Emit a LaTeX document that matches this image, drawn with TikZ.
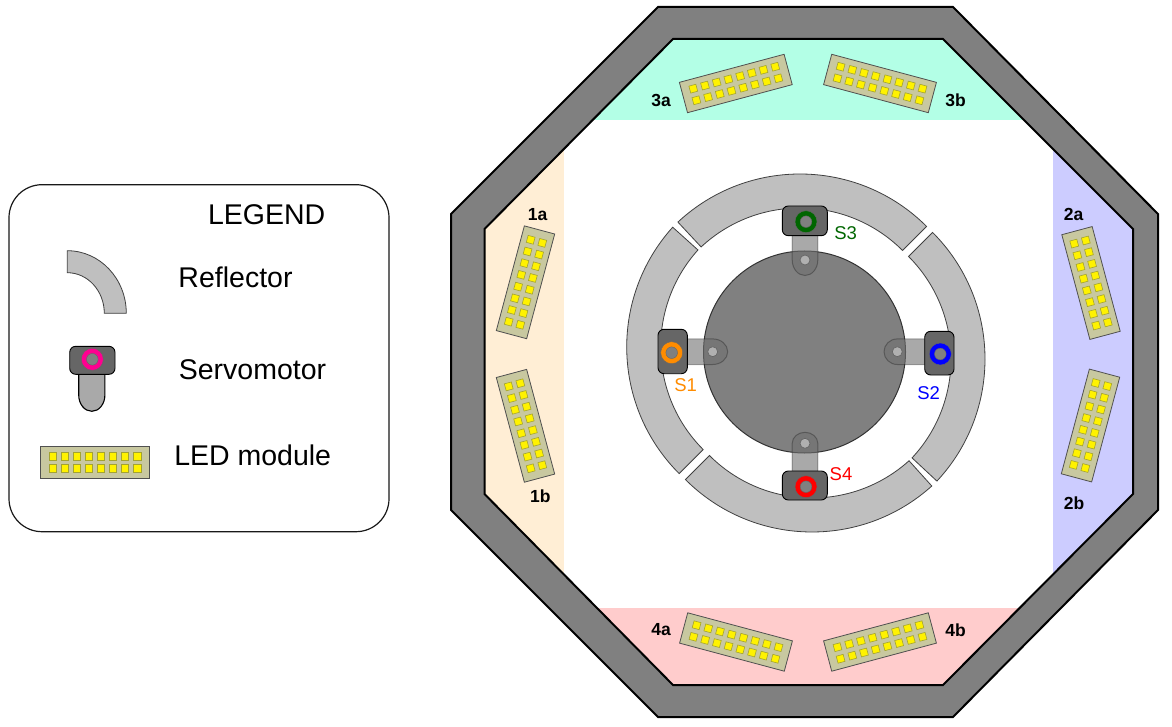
\documentclass[tikz,border=0pt]{standalone}
\usepackage{fontspec}
\setmainfont{Liberation Sans}
\definecolor{wallgray}{HTML}{808080}
\definecolor{refl}{HTML}{BFBFBF}
\definecolor{hubgray}{HTML}{808080}
\definecolor{bodygray}{HTML}{666666}
\definecolor{armgray}{HTML}{707070}
\definecolor{pingray}{HTML}{B0B0B0}
\definecolor{modfill}{HTML}{C8C8A0}
\definecolor{modline}{HTML}{505050}
\definecolor{ledline}{HTML}{A3A330}
\definecolor{teal0}{HTML}{B3FFE6}
\definecolor{orange0}{HTML}{FFEED5}
\definecolor{blue0}{HTML}{CCCCFF}
\definecolor{pink0}{HTML}{FFCCCC}
\definecolor{sgreen}{HTML}{006600}
\definecolor{sorange}{HTML}{FF8C00}
\definecolor{sblue}{HTML}{0000FF}
\definecolor{sred}{HTML}{FF0000}
\definecolor{smag}{HTML}{FF0090}
\tikzset{
  x=1pt,y=1pt,
  reflseg/.style={draw=black!75,line width=.8pt,fill=refl},
  bodybox/.style={draw=black,line width=.9pt,fill=bodygray,rounded corners=6pt},
  armshape/.style={draw=black,draw opacity=.28,line width=1pt,fill=armgray,fill opacity=.6},
  pinmark/.style={draw=black!60,line width=.7pt,fill=pingray},
  modbody/.style={draw=modline,line width=.8pt,fill=modfill},
  ledsq/.style={draw=ledline,line width=.6pt,fill=yellow},
  modlabel/.style={font=\fontsize{17.5}{19}\selectfont\bfseries,text=black,inner sep=0pt},
  slabel/.style={font=\fontsize{18.5}{20}\selectfont,inner sep=0pt},
  leglabel/.style={font=\fontsize{28.5}{30}\selectfont,text=black,inner sep=0pt},
}
% centre x, centre y, start angle, end angle (angles clockwise on the page)
\newcommand{\reflarc}[4]{%
  \path[reflseg] ([shift={(#3:179)}]#1,#2) arc[start angle=#3,end angle=#4,radius=179]
    -- ([shift={(#4:145)}]#1,#2) arc[start angle=#4,end angle=#3,radius=145] -- cycle;}
% pin x, pin y, direction, length, tip reach
\newcommand{\servoarm}[5]{%
  \begin{scope}[shift={(#1,#2)},rotate=#3]
    \path[armshape] (#4,-12.8) -- (0,-12.8) arc[start angle=-90,end angle=-270,x radius=#5,y radius=12.8] -- (#4,12.8) -- cycle;
    \path[pinmark] (0,0) circle[radius=5];
  \end{scope}}
% ring x, ring y, colour
\newcommand{\servoring}[3]{%
  \path[draw=black!60,line width=.4pt,fill=#3] (#1,#2) circle[radius=11];
  \path[draw=black!60,line width=.4pt,fill=wallgray] (#1,#2) circle[radius=5.8];}
\newcommand{\ledmodule}[3]{%
  \begin{scope}[shift={(#1,#2)},rotate=#3]
    \path[modbody] (-54.2,-15.7) rectangle (54.2,15.7);
    \foreach \lx in {-42.4,-30.3,-18.2,-6.1,6.1,18.2,30.3,42.4}
      \foreach \ly in {-6,6}
        \path[ledsq] (\lx-3.6,\ly-3.6) rectangle (\lx+3.6,\ly+3.6);
  \end{scope}}
\begin{document}
\begin{tikzpicture}[yscale=-1]
\useasboundingbox (0,0) rectangle (1172,727);
% housing
\path[draw=black,line width=2pt,fill=wallgray,line join=miter]
  (658,7) -- (953,7) -- (1158,214) -- (1158,510) -- (953,717) -- (658,717) -- (451,510) -- (451,214) -- cycle;
\path[fill=white] (484.5,229) -- (673,39) -- (943,39) -- (1133,229) -- (1133,494) -- (943,685) -- (673,685) -- (484.5,494) -- cycle;
\begin{scope}
  \clip (484.5,229) -- (673,39) -- (943,39) -- (1133,229) -- (1133,494) -- (943,685) -- (673,685) -- (484.5,494) -- cycle;
  \fill[teal0] (480,30) rectangle (1140,120);
  \fill[orange0] (480,30) rectangle (564,700);
  \fill[blue0] (1052.5,30) rectangle (1140,700);
  \fill[pink0] (480,608) rectangle (1140,700);
\end{scope}
\path[draw=black,line width=2pt,line join=miter] (484.5,229) -- (673,39) -- (943,39) -- (1133,229) -- (1133,494) -- (943,685) -- (673,685) -- (484.5,494) -- cycle;
% LED modules
\ledmodule{525.5}{282.3}{-75}
\ledmodule{525.5}{425.8}{75}
\ledmodule{1091}{283}{75}
\ledmodule{1090.5}{425.5}{-75}
\ledmodule{735.8}{83.5}{-15}
\ledmodule{880}{83.5}{15}
\ledmodule{736}{642}{15}
\ledmodule{880}{642}{-15}
\node[modlabel] (l1a) at (537.5,214.3) {1a};
\node[modlabel] (l1b) at (540.3,496.7) {1b};
\node[modlabel] (l2a) at (1073.5,214) {2a};
\node[modlabel] (l2b) at (1074,503) {2b};
\node[modlabel] (l3a) at (661,100.5) {3a};
\node[modlabel] (l3b) at (955.5,100.5) {3b};
\node[modlabel] (l4a) at (661,630) {4a};
\node[modlabel] (l4b) at (955.5,630) {4b};
% reflectors
\reflarc{800}{353}{-133}{-45}
\reflarc{805.7}{347}{-138}{-225}
\reflarc{812}{353}{-225}{-312}
\reflarc{806}{359}{-45}{43}
% hub
\path[draw=black!80,line width=1pt,fill=hubgray] (804.5,352) circle[radius=101];
% arms
\servoarm{805}{260}{-90}{25}{15.5}
\servoarm{712.7}{351.7}{180}{26}{15}
\servoarm{897.3}{351.7}{0}{28}{13.3}
\servoarm{805}{443.3}{90}{28}{11}
% bodies
\path[bodybox] (782.3,206) rectangle (827.3,235.7);
\path[bodybox] (658,329.3) rectangle (687.3,373.7);
\path[bodybox] (924.7,331.3) rectangle (954,375);
\path[bodybox] (782.3,471) rectangle (827.3,500);
\servoring{806}{221.7}{sgreen}
\servoring{671.7}{352.7}{sorange}
\servoring{940.3}{354}{sblue}
\servoring{806}{486.7}{sred}
\node[slabel,text=sgreen] (s3) at (845.7,233.3) {S3};
\node[slabel,text=sorange] (s1) at (685.7,385.3) {S1};
\node[slabel,text=sblue] (s2) at (928.7,392.7) {S2};
\node[slabel,text=sred] (s4) at (841,474.3) {S4};
% legend
\path[draw=black!90,line width=1.2pt,fill=white,rounded corners=33pt] (9,184.7) rectangle (389,531.7);
\node[leglabel] (legtitle) at (266.7,214.3) {LEGEND};
\node[leglabel] (legrefl) at (235.5,277.7) {Reflector};
\node[leglabel] (legservo) at (252.5,369.3) {Servomotor};
\node[leglabel] (legled) at (252.7,455.7) {LED module};
\path[reflseg] (67.3,250.7) arc[start angle=-90,end angle=0,x radius=59,y radius=62.6]
  -- (104.3,313.3) arc[start angle=0,end angle=-90,x radius=37,y radius=40.6] -- cycle;
\path[draw=black,line width=1.1pt,fill=armgray!60] (78.7,370) -- (78.7,395) arc[start angle=180,end angle=0,x radius=13.1,y radius=16.3] -- (104.9,370) -- cycle;
\path[bodybox] (69.7,346.3) rectangle (115,374.3);
\servoring{92.3}{359.3}{smag}
\ledmodule{94.8}{462.2}{0}
\end{tikzpicture}
\end{document}
